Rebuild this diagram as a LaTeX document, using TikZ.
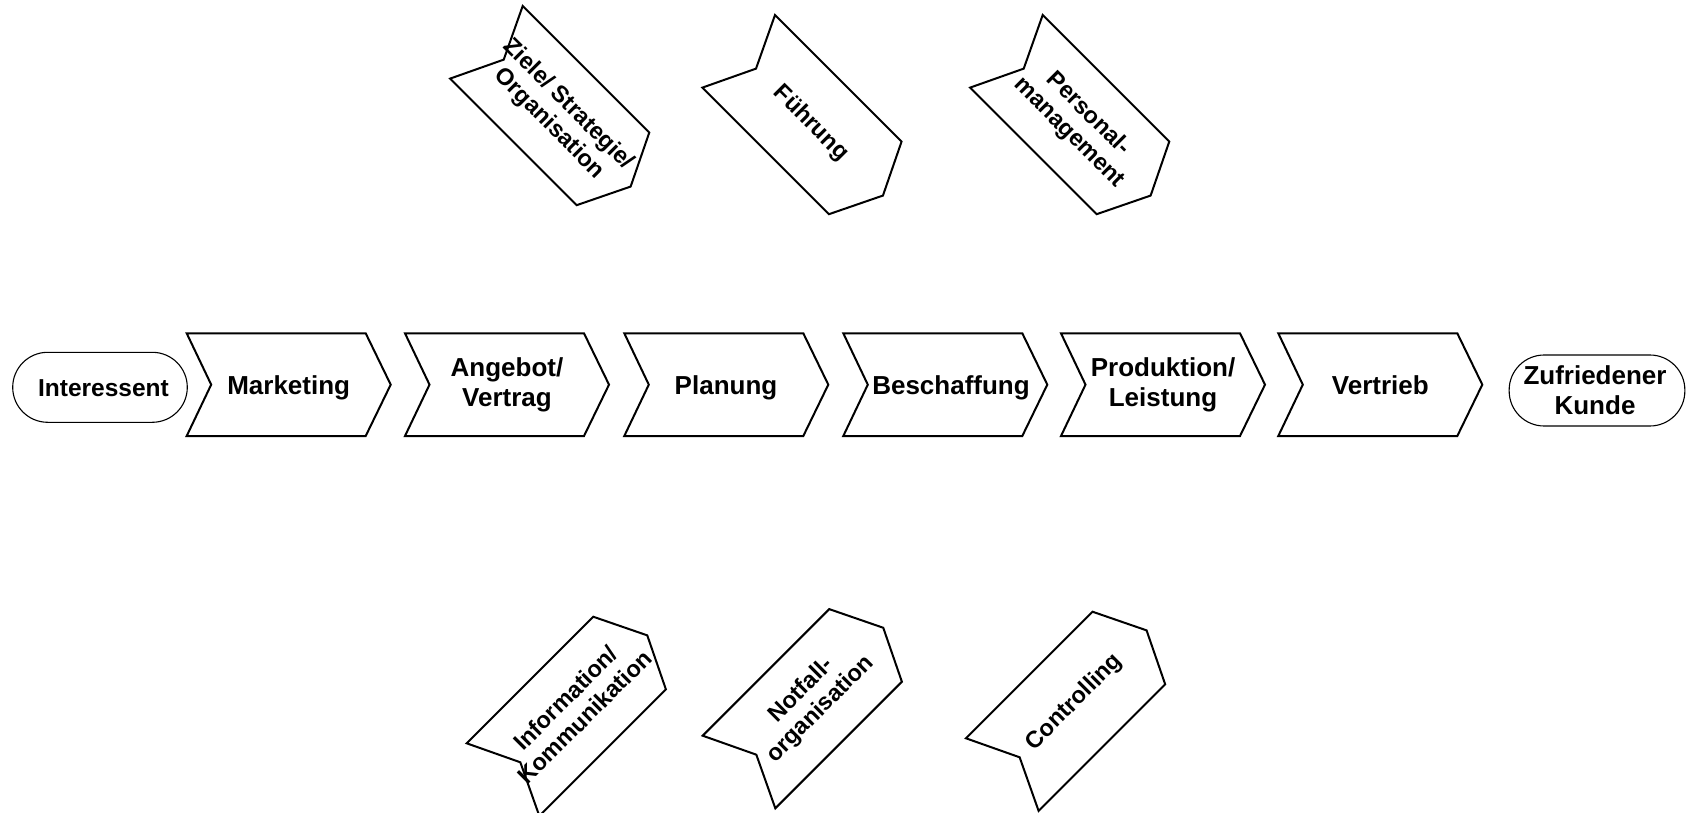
\documentclass[tikz,border=0pt]{standalone}
\usepackage{fontspec}
\setmainfont{Liberation Sans}
\begin{document}
\begin{tikzpicture}[x=1pt,y=-1pt,
  chevline/.style={line width=2pt, line join=miter},
  chev/.pic={\draw[chevline] (0,0) -- (179,0) -- (204,51.35) -- (179,102.7) -- (0,102.7) -- (24.5,51.35) -- cycle;},
  main/.style={font=\fontsize{26}{30}\selectfont\bfseries, align=center, inner sep=0pt},
  one/.style={main, text height=18.6pt, text depth=0pt},
  rot/.style={font=\fontsize{23.5}{27}\selectfont\bfseries, align=center, inner sep=0pt},
  stad/.style={draw, line width=1.1pt, rounded corners=35pt, inner sep=0pt, align=center}]
\useasboundingbox (0,0) rectangle (1690,813);
\clip (0,0) rectangle (1690,813);

% start and end
\node[stad, minimum width=174.6pt, minimum height=70pt] (interessent) at (100,387.3) {};
\node[one, font=\fontsize{24.5}{28}\selectfont\bfseries, text height=17.5pt] (interessentT) at (103.5,387.5) {Interessent};
\node[stad, minimum width=175.7pt, minimum height=71pt] (kunde) at (1597,390.5) {};
\node[main] (kundeT) at (1595,390.5) {Zufriedener\\Kunde};

% main process chevrons
\pic at (186.7,333.3) {chev};
\pic at (405,333.3) {chev};
\pic at (624.3,333.3) {chev};
\pic at (843.3,333.3) {chev};
\pic at (1061,333.3) {chev};
\pic at (1278.3,333.3) {chev};
\node[one] (marketing) at (288.7,384.7) {Marketing};
\node[main] (angebot) at (507,384.7) {Angebot/\\Vertrag};
\node[one] (planung) at (726,384.7) {Planung};
\node[one] (beschaffung) at (951,384.7) {Beschaffung};
\node[main] (produktion) at (1163,384.7) {Produktion/\\Leistung};
\node[one] (vertrieb) at (1380.3,384.7) {Vertrieb};

% top management chevrons
\pic[rotate=-45] at (522.7,6) {chev};
\pic[rotate=-45] at (775,15) {chev};
\pic[rotate=-45] at (1042.7,15) {chev};
\node[rot, rotate=-45] (ziele) at (558.5,114.4) {Ziele/ Strategie/\\Organisation};
\node[rot, rotate=-45] (fuehrung) at (810.8,123.4) {Führung};
\node[rot, rotate=-45] (personal) at (1078.5,123.4) {Personal-\\management};

% bottom support chevrons
\pic[rotate=45] at (466.7,743.3) {chev};
\pic[rotate=45] at (702.7,735.7) {chev};
\pic[rotate=45] at (966,738.3) {chev};
\node[rot, rotate=45] (information) at (575.1,707.5) {Information/\\Kommunikation};
\node[rot, rotate=45] (notfall) at (811.1,699.9) {Notfall-\\organisation};
\node[rot, rotate=45] (controlling) at (1074.4,702.5) {Controlling};
\end{tikzpicture}
\end{document}
